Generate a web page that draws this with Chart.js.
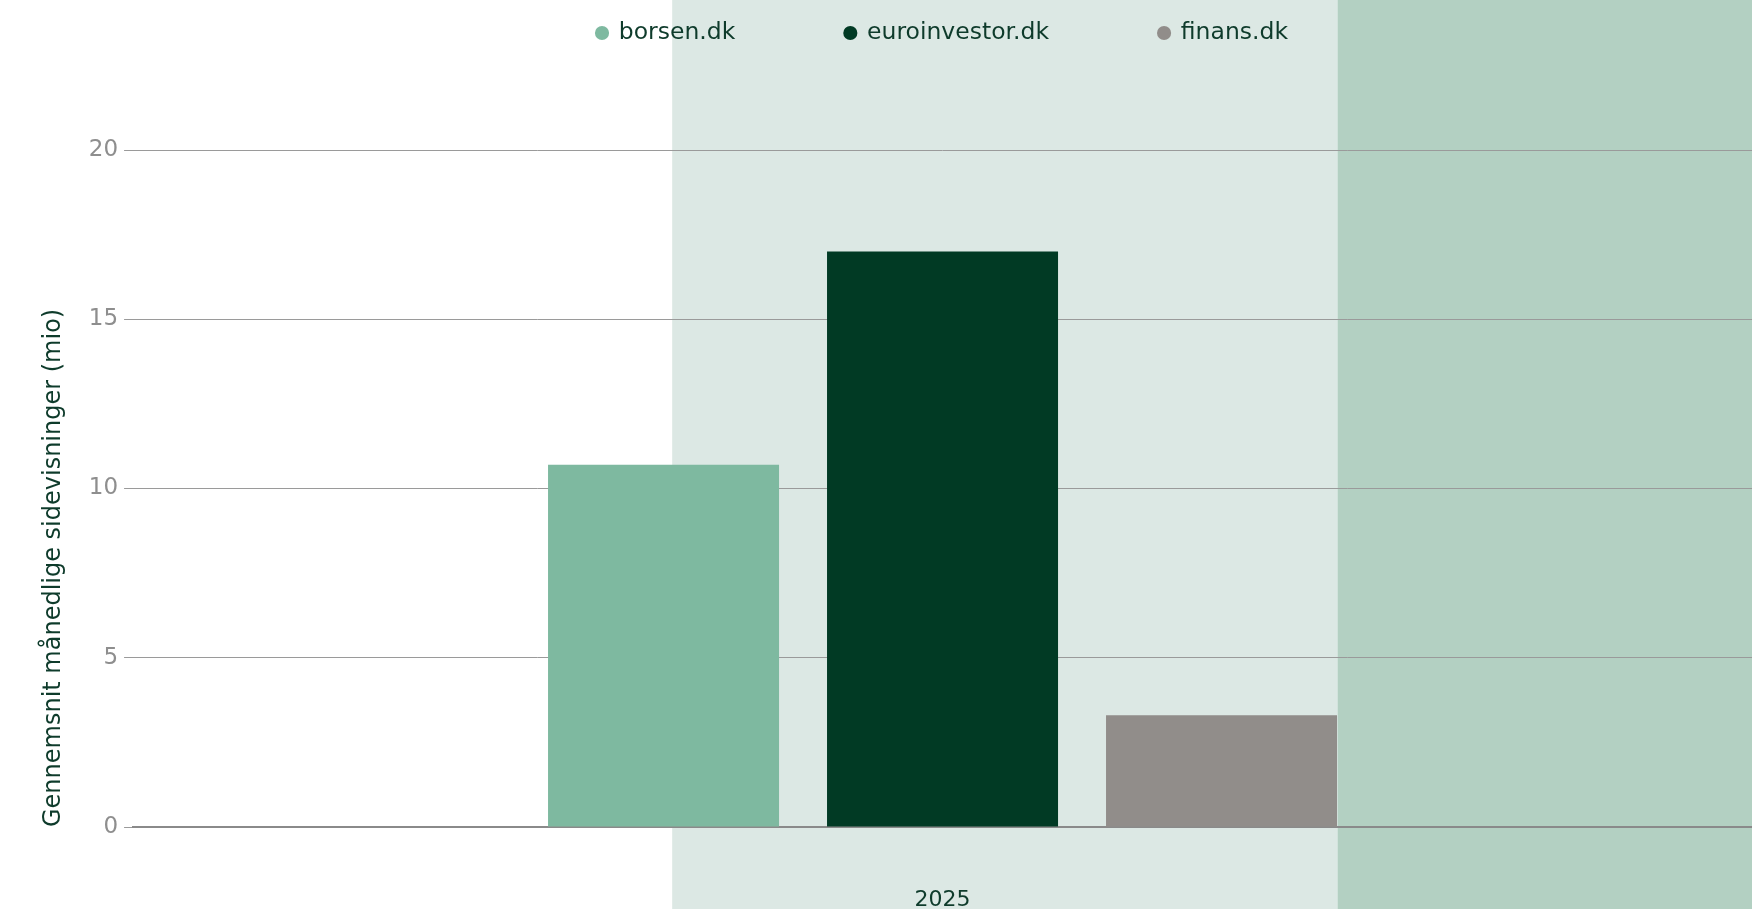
<!DOCTYPE html>
<html>
<head>
<meta charset="utf-8">
<script src="https://cdn.jsdelivr.net/npm/chart.js@4"></script>
<style>
  html, body { margin: 0; padding: 0; background: #ffffff; }
  #wrap { width: 1752px; height: 909px; position: relative; }
</style>
</head>
<body>
<div id="wrap"><canvas id="c"></canvas></div>
<script>
// ---- data ----
const categories = ['2025'];
const seriesNames = ['borsen.dk', 'euroinvestor.dk', 'finans.dk'];
const borsenValues = [10.7];
const euroinvestorValues = [17.0];
const finansValues = [3.3];
const yTicks = [0, 5, 10, 15, 20];
const yTitle = 'Gennemsnit månedlige sidevisninger (mio)';
// background bands, in x-scale units (category index space)
const bandStarts = [-0.167, 0.244];
const bandEnds = [0.244, 0.5];

// ---- styles ----
const seriesColors = ['#7eb9a0', '#013a24', '#918d8a'];
const bandColors = ['#dce8e4', '#b3d0c2'];
const darkText = '#0e3b2b';
const grayText = '#8e8e8e';
const gridColor = '#9a9a9a';

const LEGEND_PAD = 110;      // horizontal gap between legend items
const LEGEND_CENTER_Y = 33;  // vertical centre of legend text
const LEGEND_FONT = 23.5;
const PLOT_TOP = 150;        // where the plot area starts

Chart.defaults.font.family = "'DejaVu Sans', sans-serif";

const bandsPlugin = {
  id: 'bands',
  beforeDraw(chart) {
    const ctx = chart.ctx;
    const x = chart.scales.x;
    ctx.save();
    ctx.fillStyle = '#ffffff';
    ctx.fillRect(0, 0, chart.width, chart.height);
    for (let i = 0; i < bandStarts.length; i++) {
      const x0 = x.getPixelForValue(bandStarts[i]);
      let x1 = x.getPixelForValue(bandEnds[i]);
      if (i === bandStarts.length - 1) x1 = chart.width;
      ctx.fillStyle = bandColors[i];
      ctx.fillRect(x0, 0, x1 - x0, chart.height);
    }
    ctx.restore();
  }
};

// legend: wide horizontal spacing, but fixed height / vertical position
const legendLayoutPlugin = {
  id: 'legendLayout',
  beforeUpdate(chart) {
    const lg = chart.legend;
    if (lg && !lg.__patched) {
      const origFit = lg.fit;
      lg.fit = function () {
        origFit.call(this);
        this.height = PLOT_TOP;
      };
      lg.__patched = true;
    }
  },
  afterLayout(chart) {
    const lg = chart.legend;
    if (lg) {
      lg.top = LEGEND_CENTER_Y - LEGEND_PAD - LEGEND_FONT / 2;
    }
  }
};

const valueArrays = [borsenValues, euroinvestorValues, finansValues];
const datasets = seriesNames.map((name, i) => ({
  label: name,
  data: valueArrays[i],
  backgroundColor: seriesColors[i],
  borderWidth: 0,
  categoryPercentage: 0.517,
  barPercentage: 0.828
}));

new Chart(document.getElementById('c'), {
  type: 'bar',
  data: { labels: categories, datasets },
  plugins: [bandsPlugin, legendLayoutPlugin],
  options: {
    responsive: true,
    maintainAspectRatio: false,
    animation: false,
    layout: { padding: { top: 0, left: 39, right: 0, bottom: -2 } },
    plugins: {
      tooltip: { enabled: false },
      legend: {
        position: 'top',
        fullSize: false,
        labels: {
          usePointStyle: true,
          pointStyle: 'circle',
          boxWidth: 10,
          boxHeight: 10,
          padding: LEGEND_PAD,
          color: darkText,
          font: { size: LEGEND_FONT }
        }
      }
    },
    scales: {
      x: {
        grid: { display: false, drawTicks: true, tickLength: 62 },
        border: { display: true, color: '#8a8a8a', width: 2 },
        ticks: { color: darkText, padding: 0, font: { size: 22, lineHeight: 1 } }
      },
      y: {
        min: 0,
        max: 20,
        afterBuildTicks(scale) { scale.ticks = yTicks.map(v => ({ value: v })); },
        grid: { color: gridColor, lineWidth: 1, tickLength: 9, drawTicks: true },
        border: { display: false },
        ticks: { color: grayText, padding: 6, font: { size: 23 } },
        title: {
          display: true,
          text: yTitle,
          align: 'start',
          color: darkText,
          font: { size: 24 },
          padding: { top: 0, bottom: 15 }
        }
      }
    }
  }
});
</script>
</body>
</html>
